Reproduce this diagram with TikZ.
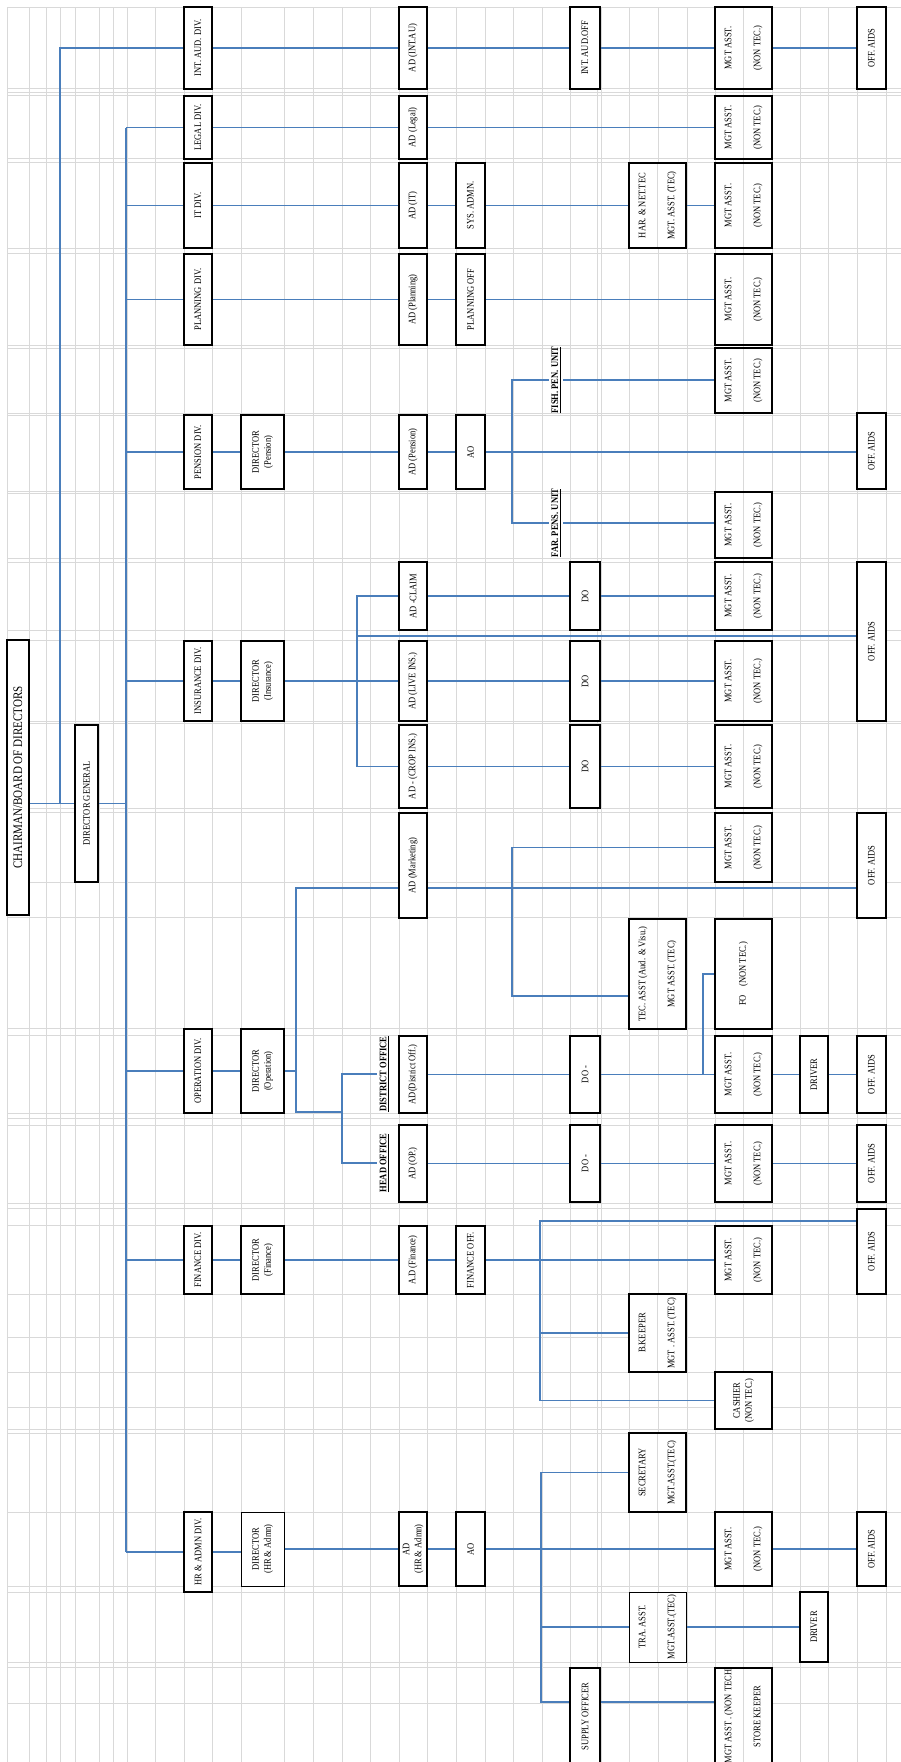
\documentclass[tikz,border=0pt]{standalone}
\usepackage{fontspec}
\setmainfont{Liberation Serif}
\usepackage{graphicx}

\definecolor{linkblue}{RGB}{74,126,187}
\definecolor{gridgray}{RGB}{217,217,217}

\newcommand{\orgfont}{\fontsize{10}{12}\selectfont}
% rotated cell texts
\newcommand{\vtxt}[1]{\rotatebox{90}{\scalebox{0.85}[1]{#1}}}
\newcommand{\vtwo}[2]{\vtxt{\begin{tabular}{@{}c@{}}#1\\#2\end{tabular}}}
\newcommand{\vwide}[2]{\vtxt{\begin{tabular}{@{}c@{}}#1\\[17pt]#2\end{tabular}}}
% box from (x1,y1) to (x2,y2)
\newcommand{\orgbox}[7][]{\node[box,#1,minimum width={#5-#3},minimum height={#6-#4}] (#2) at ({(#3+#5)/2},{(#4+#6)/2}) {#7};}

\tikzset{
  box/.style={draw, fill=white, line width=1.8pt, inner sep=0pt, font=\orgfont},
  thinbox/.style={line width=1pt},
  split/.style={path picture={\draw[gridgray, line width=0.8pt] (path picture bounding box.north) -- (path picture bounding box.south);}},
  link/.style={draw=linkblue, line width=1.6pt},
  gridline/.style={draw=gridgray, line width=0.8pt},
  unit/.style={inner sep=2.5pt, font=\orgfont\bfseries},
}

\begin{document}
\begin{tikzpicture}[x=1pt, y=-1pt]
\useasboundingbox (0,0) rectangle (901,1762);
\clip (0,0) rectangle (901,1762);

%________________________________________________%
% sheet grid
\foreach \gx in {7,29,46,60,75,99,113,127,155,184,212,241,284,313,342,370,399,427,456,485,513,542,570,597,601,629,658,687,715,743,772,800,828,857,886}
  \draw[gridline] (\gx,7) -- (\gx,1762);
\foreach \gy in {7,88,92,95,158,162,248,253,345,348,413,415,491,493,558,562,630,640,721,723,808,812,882,917,1028,1035,1113,1118,1125,1203,1208,1225,1294,1337,1372,1407,1429,1433,1512,1586,1592,1662,1667,1703}
  \draw[gridline] (7,\gy) -- (901,\gy);

%________________________________________________%
% top
\orgbox{chair}{7}{640}{29}{915}{\vtxt{\fontsize{13}{15}\selectfont CHAIRMAN/BOARD OF DIRECTORS}}
\orgbox{dg}{75}{725}{98}{882}{\vtxt{DIRECTOR GENERAL}}

%________________________________________________%
% divisions
\orgbox{intaud}{184}{7}{212}{89}{\vtxt{INT. AUD. DIV.}}
\orgbox{legal}{184}{96}{212}{159}{\vtxt{LEGAL DIV.}}
\orgbox{it}{184}{163}{212}{248}{\vtxt{IT DIV.}}
\orgbox{planning}{184}{254}{212}{345}{\vtxt{PLANNING DIV.}}
\orgbox{pension}{184}{415}{212}{489}{\vtxt{PENSION DIV.}}
\orgbox{insurance}{184}{641}{212}{721}{\vtxt{INSURANCE DIV.}}
\orgbox{operation}{184}{1029}{212}{1113}{\vtxt{OPERATION DIV.}}
\orgbox{finance}{184}{1226}{212}{1294}{\vtxt{FINANCE DIV.}}
\orgbox{hr}{184}{1512}{212}{1592}{\vtxt{HR \& ADMN DIV.}}

%________________________________________________%
% directors
\orgbox{dirpen}{241}{415}{284}{489}{\vtwo{DIRECTOR}{(Pension)}}
\orgbox{dirins}{241}{641}{284}{721}{\vtwo{DIRECTOR}{(Insurance)}}
\orgbox{dirop}{241}{1029}{284}{1113}{\vtwo{DIRECTOR}{(Operation)}}
\orgbox{dirfin}{241}{1226}{284}{1294}{\vtwo{DIRECTOR}{(Finance)}}
\orgbox[thinbox]{dirhr}{241}{1512}{284}{1586}{\vtwo{DIRECTOR}{(HR \& Admn)}}

%________________________________________________%
% assistant directors
\orgbox{adint}{399}{7}{427}{89}{\vtxt{AD (INT.AU)}}
\orgbox{adlegal}{399}{96}{427}{159}{\vtxt{AD (Legal)}}
\orgbox{adit}{399}{163}{427}{248}{\vtxt{AD (IT)}}
\orgbox{adplan}{399}{254}{427}{345}{\vtxt{AD (Planning)}}
\orgbox{adpen}{399}{415}{427}{489}{\vtxt{AD (Pension)}}
\orgbox{adclaim}{399}{562}{427}{630}{\vtxt{AD -CLAIM}}
\orgbox{adlive}{399}{641}{427}{721}{\vtxt{AD (LIVE INS.)}}
\orgbox{adcrop}{399}{725}{427}{808}{\vtxt{AD - (CROP INS.)}}
\orgbox{admkt}{399}{813}{427}{918}{\vtxt{AD (Marketing)}}
\orgbox{addist}{399}{1036}{427}{1113}{\vtxt{AD(District Off.)}}
\orgbox{adop}{399}{1125}{427}{1202}{\vtxt{AD (OP.)}}
\orgbox{adfin}{399}{1226}{427}{1294}{\vtxt{A.D (Finance)}}
\orgbox{adhr}{399}{1512}{427}{1586}{\vtwo{AD}{(HR \& Admn)}}

\node[unit] (distlbl) at (384,1074) {\vtxt{\underline{DISTRICT OFFICE}}};
\node[unit] (headlbl) at (384,1163) {\vtxt{\underline{HEAD OFFICE}}};

%________________________________________________%
% officers
\orgbox{sysadmn}{456}{163}{485}{248}{\vtxt{SYS. ADMN.}}
\orgbox{planoff}{456}{254}{485}{345}{\vtxt{PLANNING OFF}}
\orgbox{aopen}{456}{415}{485}{489}{\vtxt{AO}}
\orgbox{finoff}{456}{1226}{485}{1294}{\vtxt{FINANCE OFF.}}
\orgbox{aohr}{456}{1512}{485}{1586}{\vtxt{AO}}

\node[unit] (fishlbl) at (556,380) {\vtxt{\underline{FISH. PEN. UNIT}}};
\node[unit] (farlbl) at (556,523) {\vtxt{\underline{FAR. PENS. UNIT}}};

\orgbox{audoff}{570}{7}{600}{89}{\vtxt{INT. AUD.OFF}}
\orgbox{doclaim}{570}{562}{600}{630}{\vtxt{DO}}
\orgbox{dolive}{570}{641}{600}{721}{\vtxt{DO}}
\orgbox{docrop}{570}{725}{600}{808}{\vtxt{DO}}
\orgbox{dodist}{570}{1036}{600}{1113}{\vtxt{DO -}}
\orgbox{doop}{570}{1125}{600}{1202}{\vtxt{DO -}}
\orgbox{supply}{570}{1668}{600}{1765}{\vtxt{SUPPLY OFFICER}}

%________________________________________________%
% technical assistants
\orgbox[split]{hartec}{629}{163}{686}{248}{\vwide{HAR. \& NET.TEC}{MGT. ASST. (TEC)}}
\orgbox[split]{tecasst}{629}{919}{686}{1029}{\vwide{TEC. ASST (Aud. \& Visu.)}{MGT ASST. (TEC)}}
\orgbox[split]{bkeeper}{629}{1294}{686}{1372}{\vwide{B.KEEPER}{MGT . ASST. (TEC)}}
\orgbox[split]{secretary}{629}{1433}{686}{1512}{\vwide{SECRETARY}{MGT.ASST.(TEC)}}
\orgbox[split,thinbox]{tra}{629}{1592}{686}{1662}{\vwide{TRA. ASST.}{MGT.ASST.(TEC)}}

%________________________________________________%
% management assistants
\foreach \m/\ya/\yb in {mgtint/7/89, mgtlegal/96/159, mgtit/163/248, mgtplan/254/345, mgtfish/348/413, mgtfar/492/558, mgtclaim/562/630, mgtlive/641/721, mgtcrop/725/808, mgtmkt/813/882, mgtdist/1036/1113, mgtop/1125/1202, mgtfin/1226/1294, mgthr/1512/1586}
  {\orgbox[split]{\m}{715}{\ya}{772}{\yb}{\vwide{MGT ASST.}{(NON TEC.)}}}
\orgbox{fo}{715}{919}{772}{1029}{\vtxt{FO\quad(NON TEC.)}}
\orgbox{cashier}{715}{1372}{772}{1429}{\vtwo{CASHIER}{(NON TEC.)}}
\orgbox[split]{store}{715}{1668}{772}{1765}{\vwide{MGT ASST . (NON TECH}{STORE KEEPER}}

\orgbox{drvdist}{800}{1036}{828}{1113}{\vtxt{DRIVER}}
\orgbox{drvhr}{800}{1592}{828}{1662}{\vtxt{DRIVER}}

%________________________________________________%
% office aids
\foreach \o/\ya/\yb in {offint/7/89, offpen/413/489, offins/562/721, offmkt/813/918, offdist/1036/1113, offop/1125/1202, offfin/1209/1294, offhr/1512/1586}
  {\orgbox{\o}{857}{\ya}{886}{\yb}{\vtxt{OFF. AIDS}}}

%________________________________________________%
% connectors
\coordinate (outer) at (60,0);
\coordinate (bus) at (126,0);
\coordinate (insbus) at (357,0);
\coordinate (insoff) at (357,636);
\coordinate (opbus) at (296,0);
\coordinate (opknee) at (296,1112);
\coordinate (opbus2) at (342,0);
\coordinate (mktlvl) at (0,888);
\coordinate (teclvl) at (0,996);
\coordinate (mktbus) at (512,0);
\coordinate (penbus) at (512,0);
\coordinate (fobus) at (703,0);
\coordinate (finbus) at (540,0);
\coordinate (finlvl) at (0,1221);
\coordinate (hrbus) at (541,0);
\coordinate (suplvl) at (0,1702);

\draw[link] (dg.west -| chair.east) -- (dg.west);
\draw[link] (dg.west -| outer) |- (intaud.west);
\draw[link] (dg.east) -- (dg.east -| bus);
\draw[link] (legal.west -| bus) -- (hr.west -| bus);
\foreach \d in {legal,it,planning,pension,insurance,operation,finance,hr}
  \draw[link] (\d.west -| bus) -- (\d.west);

\foreach \a/\b in {intaud/adint, adint/audoff, audoff/mgtint, mgtint/offint,
    legal/adlegal, adlegal/mgtlegal,
    it/adit, adit/sysadmn, sysadmn/hartec, hartec/mgtit,
    planning/adplan, adplan/planoff, planoff/mgtplan,
    pension/dirpen, dirpen/adpen, adpen/aopen, aopen/offpen,
    fishlbl/mgtfish, farlbl/mgtfar,
    insurance/dirins, dirins/adlive,
    adclaim/doclaim, doclaim/mgtclaim, adlive/dolive, dolive/mgtlive, adcrop/docrop, docrop/mgtcrop,
    operation/dirop,
    addist/dodist, dodist/mgtdist, mgtdist/drvdist, drvdist/offdist,
    adop/doop, doop/mgtop, mgtop/offop,
    finance/dirfin, dirfin/adfin, adfin/finoff, finoff/mgtfin,
    hr/dirhr, dirhr/adhr, adhr/aohr, aohr/mgthr, mgthr/offhr, tra/drvhr}
  \draw[link] (\a.east) -- (\a.east -| \b.west);

% pension units
\draw[link] (fishlbl.west) -- (fishlbl.west -| penbus) -- (farlbl.west -| penbus) -- (farlbl.west);

% insurance
\draw[link] (adclaim.west) -- (adclaim.west -| insbus) -- (adcrop.west -| insbus) -- (adcrop.west);
\draw[link] (insoff) -- (insoff -| offins.west);

% operation
\draw[link] (dirop.east) -- (dirop.east -| opbus);
\draw[link] (admkt.west |- mktlvl) -| (opknee) -- (opknee -| opbus2);
\draw[link] (distlbl.west) -- (distlbl.west -| opbus2) -- (headlbl.west -| opbus2) -- (headlbl.west);
\draw[link] (admkt.east |- mktlvl) -- (offmkt.west |- mktlvl);
\draw[link] (mgtmkt.west) -- (mgtmkt.west -| mktbus) |- (tecasst.west |- teclvl);
\draw[link] (mgtdist.west -| fobus) |- (fo.west);

% finance
\draw[link] (offfin.west |- finlvl) -| (finbus |- cashier.west) -- (cashier.west);
\draw[link] (finbus |- bkeeper.west) -- (bkeeper.west);

% hr and admin
\draw[link] (secretary.west) -| (hrbus |- suplvl) -- (supply.west |- suplvl);
\draw[link] (hrbus |- tra.west) -- (tra.west);
\draw[link] (supply.east |- suplvl) -- (store.west |- suplvl);
\end{tikzpicture}
\end{document}
